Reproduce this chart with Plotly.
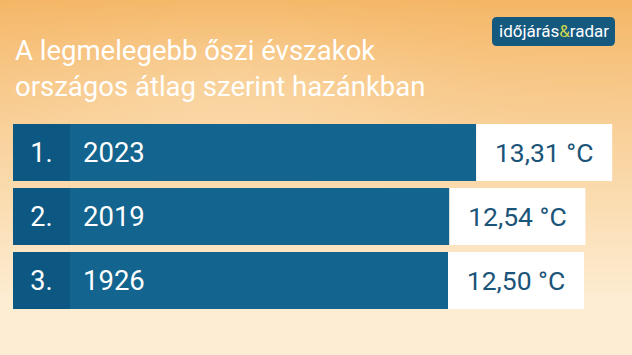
import base64, struct, zlib
import numpy as np
import plotly.graph_objects as go

# ---- data ----
ranks = ["1.", "2.", "3."]
years = ["2023", "2019", "1926"]
values = [13.31, 12.54, 12.50]
value_labels = [f"{v:.2f}".replace(".", ",") + " °C" for v in values]
title_lines = ["A legmelegebb őszi évszakok", "országos átlag szerint hazánkban"]

W, H = 632, 355

# ---- background gradient image (decorative) ----
def make_png(arr):
    h, w, _ = arr.shape
    raw = b"".join(b"\x00" + arr[i].tobytes() for i in range(h))
    def chunk(t, d):
        c = struct.pack(">I", len(d)) + t + d
        return c + struct.pack(">I", zlib.crc32(t + d) & 0xffffffff)
    return (b"\x89PNG\r\n\x1a\n" + chunk(b"IHDR", struct.pack(">IIBBBBB", w, h, 8, 2, 0, 0, 0))
            + chunk(b"IDAT", zlib.compress(raw, 9)) + chunk(b"IEND", b""))

gw, gh = 158, 89
yy, xx = np.mgrid[0:gh, 0:gw]
px = xx * W / gw
py = yy * H / gh
t = np.clip(py / 300.0, 0, 1) ** 0.9
top = np.array([245, 183, 102], float)
bot = np.array([254, 238, 212], float)
col = top[None, None, :] * (1 - t[..., None]) + bot[None, None, :] * t[..., None]
spot = np.exp(-(((px - 230) / 170) ** 2 + ((py - 110) / 80) ** 2))
light = np.array([252, 226, 185], float)
col = col * (1 - 0.45 * spot[..., None]) + light * 0.45 * spot[..., None]
img = np.clip(col, 0, 255).astype(np.uint8)
bg_uri = "data:image/png;base64," + base64.b64encode(make_png(img)).decode()

# ---- scales ----
k = 34.8  # px per unit
x0_px = 13
xr = [-x0_px / k, (W - x0_px) / k]
rank_w = 57 / k
box_w = 136 / k
ypos = list(range(len(values)))

BAR = "#13648e"
RANK = "#0d5883"
TXT = "#1b5479"
FONT = "Roboto"

fig = go.Figure()
fig.add_trace(go.Bar(x=values, y=ypos, base=0, orientation="h", marker=dict(color=BAR, line_width=0),
                     hoverinfo="skip", showlegend=False))
fig.add_trace(go.Bar(x=[rank_w] * len(values), y=ypos, base=0, orientation="h",
                     marker=dict(color=RANK, line_width=0), text=ranks, textposition="inside",
                     insidetextanchor="middle", textfont=dict(color="white", size=27, family=FONT),
                     hoverinfo="skip", showlegend=False))
fig.add_trace(go.Bar(x=[box_w] * len(values), y=ypos, base=values, orientation="h",
                     marker=dict(color="white", line_width=0), text=value_labels, textposition="inside",
                     insidetextanchor="middle", textfont=dict(color=TXT, size=26.5, family=FONT),
                     hoverinfo="skip", showlegend=False))

annotations = []
for i, yr in enumerate(years):
    annotations.append(dict(x=81 / W, xref="paper", y=i, yref="y", text=yr, showarrow=False,
                            xanchor="left", yanchor="middle",
                            font=dict(color="white", size=27.5, family=FONT)))
for j, line in enumerate(title_lines):
    annotations.append(dict(x=13 / W, xref="paper", y=1 - (50 + 36 * j) / H, yref="paper", text=line,
                            showarrow=False, xanchor="left", yanchor="middle",
                            font=dict(color="white", size=27.5, family=FONT)))
annotations.append(dict(x=553.5 / W, xref="paper", y=1 - 31.5 / H, yref="paper",
                        text="időjárás<span style='color:#c9d64c'>&amp;</span>radar", showarrow=False,
                        xanchor="center", yanchor="middle",
                        font=dict(color="white", size=17, family=FONT)))

def rrect(x0, y0, x1, y1, r):
    def X(v): return v / W
    def Y(v): return 1 - v / H
    return (f"M {X(x0+r)},{Y(y0)} L {X(x1-r)},{Y(y0)} Q {X(x1)},{Y(y0)} {X(x1)},{Y(y0+r)} "
            f"L {X(x1)},{Y(y1-r)} Q {X(x1)},{Y(y1)} {X(x1-r)},{Y(y1)} L {X(x0+r)},{Y(y1)} "
            f"Q {X(x0)},{Y(y1)} {X(x0)},{Y(y1-r)} L {X(x0)},{Y(y0+r)} Q {X(x0)},{Y(y0)} {X(x0+r)},{Y(y0)} Z")

shapes = [dict(type="path", xref="paper", yref="paper", path=rrect(492, 17, 615, 46, 5),
               fillcolor="#15597f", line_width=0, layer="below")]

top_px, pitch = 124 - 3.5, 64
fig.update_layout(
    width=W, height=H, margin=dict(l=0, r=0, t=0, b=0),
    paper_bgcolor="#f9d49a", plot_bgcolor="rgba(0,0,0,0)",
    barmode="overlay", bargap=7 / 64,
    uniformtext=dict(mode=False),
    xaxis=dict(range=xr, visible=False, fixedrange=True),
    yaxis=dict(range=[len(values) - 0.5, -0.5], visible=False, fixedrange=True,
               domain=[1 - (top_px + pitch * len(values)) / H, 1 - top_px / H]),
    images=[dict(source=bg_uri, xref="paper", yref="paper", x=0, y=1, sizex=1, sizey=1,
                 sizing="stretch", layer="below")],
    annotations=annotations, shapes=shapes, showlegend=False,
)
fig.write_html("out.html", config={"displayModeBar": False})
